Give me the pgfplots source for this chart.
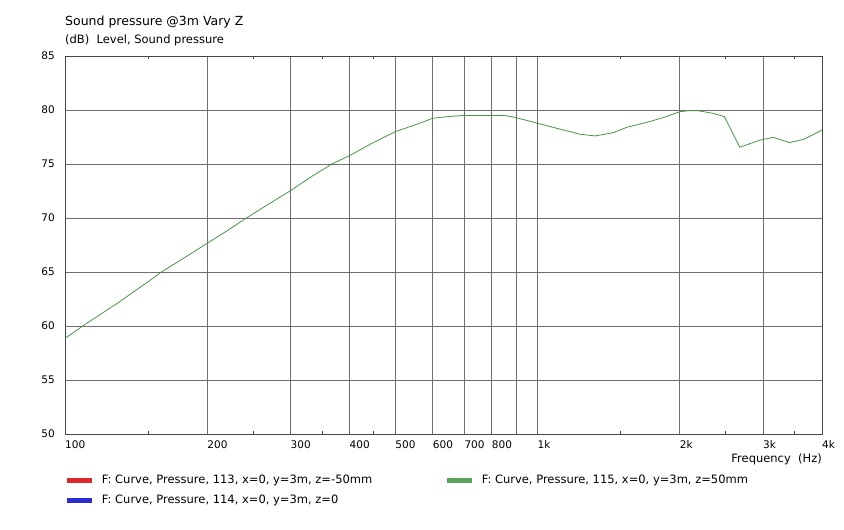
\documentclass[border=0pt]{standalone}
\usepackage{pgfplots}
\pgfplotsset{compat=1.18}
\usepackage{fontspec}
\setmainfont{DejaVu Sans}
\definecolor{gridc}{RGB}{110,110,110}
\definecolor{axc}{RGB}{70,70,70}
\definecolor{cred}{RGB}{220,40,45}
\definecolor{cblue}{RGB}{45,45,205}
\definecolor{cgreen}{RGB}{90,165,90}
\definecolor{cline}{RGB}{70,150,70}
\pgfplotstableread{
f db
100 58.85
109 60.0
120 61.2
130 62.2
140 63.2
150 64.1
160 65.0
180 66.4
200 67.66
220 68.8
242 70.0
270 71.3
300 72.53
330 73.75
367 75.0
400 75.77
450 77.0
500 77.99
563 78.77
600 79.23
650 79.4
700 79.5
800 79.5
850 79.5
900 79.3
1000 78.77
1100 78.3
1233 77.75
1324 77.6
1446 77.9
1546 78.4
1705 78.86
1851 79.32
2000 79.84
2083 79.93
2188 79.93
2354 79.69
2486 79.38
2680 76.55
2951 77.2
3153 77.47
3414 76.98
3664 77.29
4000 78.15
}\spl
\begin{document}
\fontsize{11.5bp}{13bp}\selectfont
\begin{tikzpicture}
\path[use as bounding box] (0,0) rectangle (844bp,-530bp);
\begin{axis}[
  at={(65bp,-434bp)}, anchor=south west,
  width=757bp, height=378bp, scale only axis,
  xmode=log, xmin=100, xmax=4000, ymin=50, ymax=85,
  log basis x=10,
  xtick={100,200,300,400,500,600,700,800,900,1000,2000,3000,4000},
  xticklabels={100,200,300,400,500,600,700,800,,1k,2k,3k,4k},
  minor xtick={150,250,350,450,1500,2500,3500},
  ytick={50,55,...,85},
  major tick length=0pt, minor tick length=3bp,
  minor tick style={axc, line width=0.6bp},
  xmajorgrids, ymajorgrids,
  major grid style={gridc, line width=0.7bp},
  axis line style={axc, line width=0.8bp},
  tick align=inside,
  /pgf/number format/assume math mode=true,
  tick label style={font=\fontsize{10.5bp}{12bp}\selectfont, text=black},
  x tick label style={anchor=base west, inner sep=0pt, yshift=-14bp},
  y tick label style={anchor=east, inner sep=0pt, xshift=-10bp},
  legend columns=2,
  legend style={at={(-0.001,-0.103)}, anchor=north west, draw=none, fill=none,
    inner sep=0pt, row sep=6bp,
    font=\fontsize{11.5bp}{13bp}\selectfont,
    /tikz/every even column/.append style={column sep=70bp},
    /tikz/every odd column/.append style={column sep=6bp}},
  legend cell align=left,
  legend image code/.code={\draw[#1, line width=4.5bp] (0bp,0bp) -- (25bp,0bp);},
]
\addlegendimage{cred}
\addlegendentry{F: Curve, Pressure, 113, x=0, y=3m, z=-50mm}
\addplot[cline, line width=0.8bp, legend image post style={cgreen}] table[x=f,y=db]{\spl};
\addlegendentry{F: Curve, Pressure, 115, x=0, y=3m, z=50mm}
\addlegendimage{cblue}
\addlegendentry{F: Curve, Pressure, 114, x=0, y=3m, z=0}
\end{axis}
\node[anchor=base west, inner sep=0pt] at (65bp,-25bp) {\fontsize{12.5bp}{14bp}\selectfont Sound pressure @3m Vary Z};
\node[anchor=base west, inner sep=0pt] at (65bp,-43bp) {(dB)\ \ Level, Sound pressure};
\node[anchor=base east, inner sep=0pt] at (822bp,-462bp) {Frequency\ \ (Hz)};
\end{tikzpicture}
\end{document}
